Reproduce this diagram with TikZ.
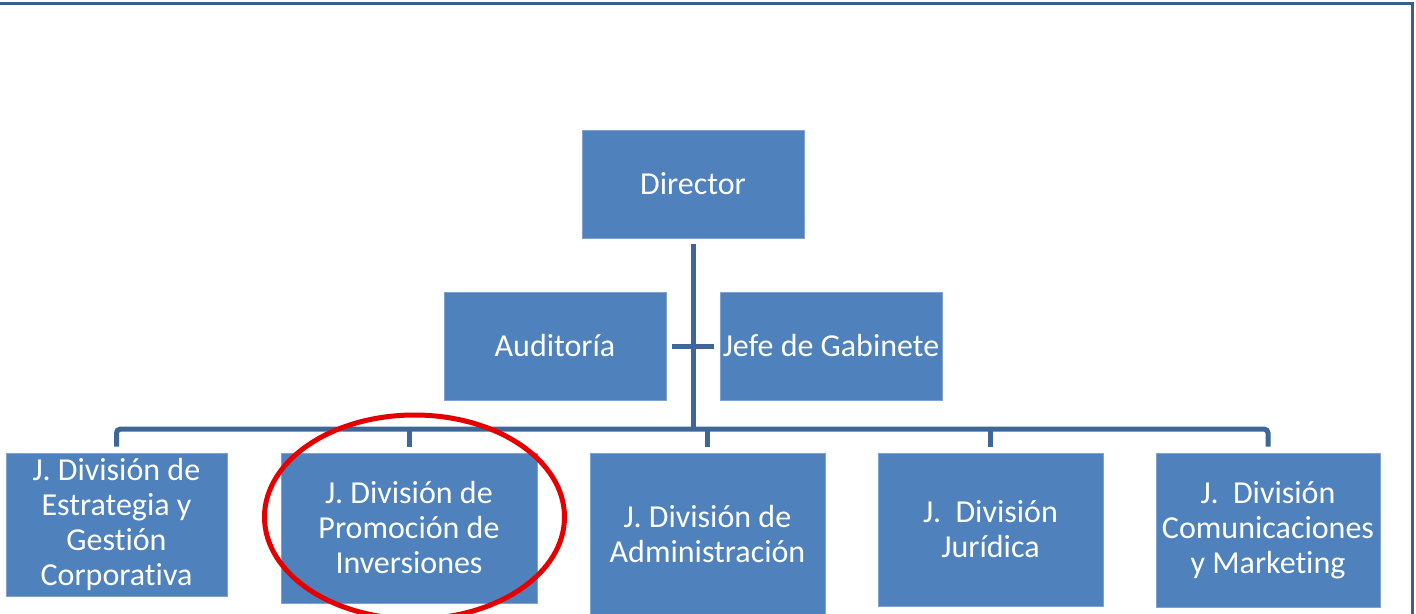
\documentclass[tikz,border=0pt]{standalone}
\usepackage{fontspec}
\setmainfont[Ligatures=NoCommon]{Carlito}
\definecolor{boxblue}{HTML}{4F81BD}
\definecolor{boxedge}{HTML}{7FA2CF}
\definecolor{linkblue}{HTML}{3E6696}
\definecolor{framecol}{HTML}{36608F}
\tikzset{
  unit/.style={rectangle, fill=boxblue, draw=boxedge, line width=0.8pt, inner sep=0pt,
    text=white, align=center, font=\fontsize{32}{35}\selectfont},
  conn/.style={draw=linkblue, line width=5pt},
  frameline/.style={draw=framecol, line width=3.5pt},
  mark ring/.style={draw=red!90!black, line width=5pt}
}
\begin{document}
\begin{tikzpicture}[x=1pt,y=-1pt]
\useasboundingbox (0,0) rectangle (1416,613);
\clip (0,0) rectangle (1416,613);
\fill[white] (0,0) rectangle (1416,613);
\draw[frameline] (-10,3.5) -- (1412.5,3.5) -- (1412.5,700);

\node[unit, minimum width=222pt, minimum height=108pt] (D) at (693,184) {Director};
\node[unit, minimum width=222pt, minimum height=108pt] (A) at (555,346) {Auditoría};
\node[unit, minimum width=222pt, minimum height=108pt] (J) at (831,346) {Jefe de Gabinete};

\node[unit, minimum width=221pt, minimum height=143pt] (b1) at (116.5,524.5) {J. División de\\Estrategia y\\Gestión\\Corporativa};
\node[unit, minimum width=256pt, minimum height=150pt] (b2) at (409,528) {J. División de\\Promoción de\\Inversiones};
\node[unit, minimum width=235pt, minimum height=162pt] (b3) at (707.5,534) {J. División de\\Administración};
\node[unit, minimum width=225pt, minimum height=153pt] (b4) at (990.5,529.5) {J.\ \ División\\Jurídica};
\node[unit, minimum width=224pt, minimum height=154pt] (b5) at (1268,530) {J.\ \ División\\Comunicaciones\\y Marketing};

\coordinate (bus) at (0,429);
\draw[conn] ([yshift=-6pt]D.south) -- (D.south |- bus);
\draw[conn] ([xshift=6pt]A.east) -- ([xshift=-6pt]J.west);
\draw[conn, rounded corners=4pt] ([yshift=6pt]b1.north) -- (b1.north |- bus) -- (b5.north |- bus) -- ([yshift=6pt]b5.north);
\draw[conn] (b2.north |- bus) -- ([yshift=6pt]b2.north);
\draw[conn] (b3.north |- bus) -- ([yshift=6pt]b3.north);
\draw[conn] (b4.north |- bus) -- ([yshift=6pt]b4.north);

\draw[mark ring] (b2.center) ++(5.5,-11) ellipse [x radius=150pt, y radius=102pt];
\end{tikzpicture}
\end{document}
